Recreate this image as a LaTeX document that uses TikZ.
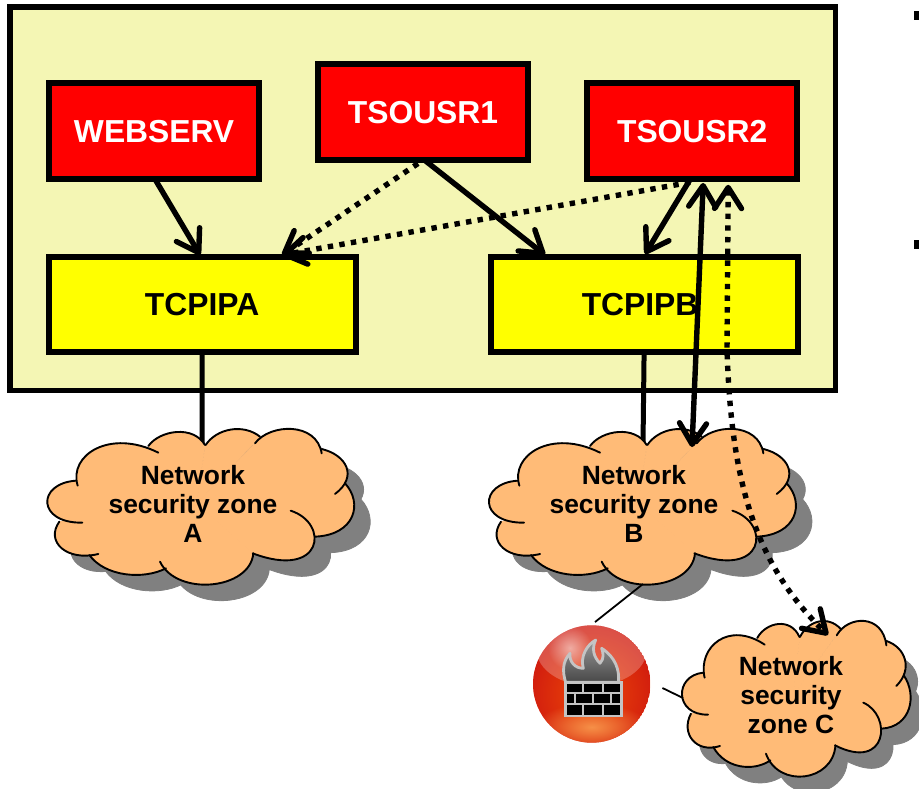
\documentclass[tikz,border=0pt]{standalone}
\usepackage{fontspec}
\setmainfont{Liberation Sans}
\usetikzlibrary{arrows.meta,fadings}
\definecolor{hostfill}{HTML}{F4F6B4}
\definecolor{cloudfill}{HTML}{FFBB77}
\definecolor{shadowgray}{HTML}{808080}
\definecolor{mortar}{HTML}{C4C4C4}
\definecolor{ballin}{HTML}{EE4A08}
\definecolor{ballout}{HTML}{CC1410}
\definecolor{ballglow}{HTML}{F69048}
\definecolor{boxred}{RGB}{255,0,0}
\definecolor{boxyellow}{RGB}{255,255,0}
\tikzfading[name=softdot,inner color=transparent!0,outer color=transparent!100]
\tikzset{
  boxbase/.style={draw=black,line width=6pt,inner sep=0pt,outer sep=0pt,font=\fontsize{31.8}{38}\selectfont\bfseries,align=center},
  redbox/.style={boxbase,fill=boxred,text=white,minimum width=210.5pt,minimum height=96pt},
  yellowbox/.style={boxbase,fill=boxyellow,text=black,minimum width=306.8pt,minimum height=95pt},
  zonetext/.style={font=\fontsize{26.4}{29}\selectfont\bfseries,align=center,inner sep=0pt},
  tipped/.style={-{Straight Barb[length=21pt,width=27pt,round]},line width=5.4pt,line cap=round},
  twotipped/.style={{Straight Barb[length=21pt,width=27pt,round]}-{Straight Barb[length=21pt,width=27pt,round]},line width=5.4pt,line cap=round},
  dottedlink/.style={line width=5.4pt,line cap=butt,dash pattern=on 5.4pt off 6.3pt},
  thick link/.style={line width=5pt},
  thin link/.style={line width=1.8pt},
}
\newcommand\cloudlobes{%
  \lobeact{143,197}{115,105}{240,25}{385,98}%
  \lobeact{355,78}{390,30}{490,15}{525,75}%
  \lobeact{527,75}{560,25}{640,10}{690,50}%
  \lobeact{675,70}{720,10}{860,5}{875,100}%
  \lobeact{875,87}{950,105}{985,170}{915,222}%
  \lobeact{945,190}{1000,250}{975,345}{855,350}%
  \lobeact{782,272}{900,310}{880,480}{668,400}%
  \lobeact{670,400}{660,510}{440,530}{390,425}%
  \lobeact{408,445}{340,480}{225,470}{178,405}%
  \lobeact{205,402}{110,425}{45,365}{88,305}%
  \lobeact{157,308}{20,310}{20,190}{138,182}%
}
% #1 = x shift, #2 = y shift, #3 = x scale
\newcommand\drawcloud[3]{%
  \begin{scope}[shift={(#1,#2)},xscale=#3,yscale=1/3]
    \begin{scope}[shift={(48,48)}]
      \def\lobeact##1##2##3##4{\filldraw[shadowgray,line width=.8pt] (##1) .. controls (##2) and (##3) .. (##4) -- (500,250) -- cycle;}
      \cloudlobes
    \end{scope}
    \def\lobeact##1##2##3##4{\filldraw[cloudfill,line width=.8pt] (##1) .. controls (##2) and (##3) .. (##4) -- (500,250) -- cycle;}
    \cloudlobes
    \def\lobeact##1##2##3##4{\draw[line width=1.9pt,line cap=round] (##1) .. controls (##2) and (##3) .. (##4);}
    \cloudlobes
  \end{scope}%
}
\begin{document}
\begin{tikzpicture}[x=1pt,y=-1pt]
\useasboundingbox (0,0) rectangle (919,789);
% stray bullets at the right edge
\fill[black] (914,11) rectangle (919,20);
\fill[black] (914,240) rectangle (919,249);
% host
\node[draw=black,fill=hostfill,line width=5.6pt,minimum width=825.5pt,minimum height=383.5pt,inner sep=0pt,outer sep=0pt] (host) at (422.75,198.75) {};
% boxes
\node[redbox] (webserv) at (154.1,131.3) {WEBSERV};
\node[redbox] (tsousr1) at (423,112.5) {TSOUSR1};
\node[redbox] (tsousr2) at (692.2,131.3) {TSOUSR2};
\node[yellowbox] (tcpipa) at (202.1,304.5) {TCPIPA};
\node[yellowbox] (tcpipb) at (644.1,304.5) {\hspace*{-8pt}TCPIPB};
% clouds
\coordinate (zoneAtop) at (202,445);
\coordinate (zoneBtop) at (643,445);
\coordinate (zoneBin) at (692,447);
\coordinate (zoneBfoot) at (643,584);
\coordinate (zoneCin) at (828,635);
\coordinate (zoneCleft) at (683,698);
\draw[thick link] (tcpipa.south) -- (zoneAtop);
\draw[thick link] (tcpipb.south) -- (zoneBtop);
\drawcloud{30}{420}{1/3}
\drawcloud{471.7}{420}{1/3}
\drawcloud{669.1}{612}{0.2483}
\node[zonetext] (zonea) at (193,504) {Network\\security zone\\A};
\node[zonetext] (zoneb) at (634,504) {Network\\security zone\\B};
\node[zonetext] (zonec) at (791,695) {Network\\security\\zone C};
% firewall ball
\node[circle,minimum size=117.5pt,inner sep=0pt,outer sep=0pt] (fw) at (591.7,684) {};
\begin{scope}
  \clip (fw.center) circle (58.7pt);
  \fill[ballout] (fw.center) circle (58.7pt);
  \fill[ballin,path fading=softdot] (591.7,694) circle (76pt);
  \fill[ballglow,path fading=softdot] (591.7,727) ellipse (58pt and 24pt);
  \fill[white,opacity=.24] (591.7,650) ellipse (55pt and 36pt);
  \fill[white,opacity=.5,path fading=softdot] (570,648) circle (22pt);
\end{scope}
\begin{scope}[shift={(525,615)},scale=1/3]
  \draw[mortar,line width=2.8pt,line join=round,top color=gray!80,bottom color=black!72]
    (122,202) .. controls (112,170) and (112,140) .. (135,115)
    .. controls (132,140) and (150,160) .. (175,160)
    .. controls (165,125) and (185,90) .. (212,75)
    .. controls (200,100) and (205,125) .. (225,145)
    .. controls (238,130) and (235,115) .. (230,100)
    .. controls (270,125) and (285,165) .. (280,202) -- cycle;
  \draw[mortar,fill=black,line width=2.8pt] (122,202) rectangle (290,303);
  \draw[mortar,line width=1.9pt]
    (122,234) -- (290,234) (122,266) -- (290,266)
    (175,202) -- (175,234) (235,202) -- (235,234)
    (150,234) -- (150,266) (203,234) -- (203,266) (258,234) -- (258,266)
    (175,266) -- (175,303) (235,266) -- (235,303);
\end{scope}
% connectors
\draw[tipped] ([xshift=1pt]webserv.south) -- ([xshift=-2pt,yshift=2pt]tcpipa.north);
\draw[tipped] ([xshift=2pt]tsousr1.south) -- ([xshift=-99pt,yshift=2pt]tcpipb.north);
\draw[tipped] ([xshift=-2pt]tsousr2.south) -- ([xshift=1pt,yshift=3pt]tcpipb.north);
\draw[tipped,dottedlink] ([xshift=-5pt,yshift=-3pt]tsousr1.south) -- ([xshift=80pt,yshift=2pt]tcpipa.north);
\draw[tipped,dottedlink] ([xshift=-2pt,yshift=-3pt]tsousr2.south) -- ([xshift=80pt,yshift=2pt]tcpipa.north);
\draw[twotipped] ([xshift=11pt,yshift=-3.7pt]tsousr2.south) -- (zoneBin);
\draw[twotipped,dottedlink]
  ([xshift=36pt,yshift=-5.5pt]tsousr2.south) -- (727,350) .. controls (731,470) and (750,560) .. (zoneCin);
\draw[thin link] (zoneBfoot) -- ([xshift=3.3pt,yshift=3.2pt]fw.north);
\draw[thin link] ([xshift=12pt,yshift=-4pt]fw.east) -- (zoneCleft);
\end{tikzpicture}
\end{document}
